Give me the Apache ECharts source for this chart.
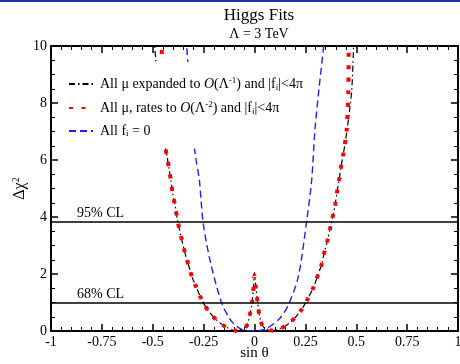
<!DOCTYPE html>
<html>
<head>
<meta charset="utf-8">
<script src="https://cdn.jsdelivr.net/npm/echarts@6/dist/echarts.min.js"></script>
<style>
  html, body { margin: 0; padding: 0; background: #fff; }
  #chart { width: 460px; height: 364px; }
</style>
</head>
<body>
<div id="chart"></div>
<script>
// sin theta and delta chi^2
const expandedX = [-0.492, -0.489, -0.484, -0.465, -0.44, -0.428, -0.419, -0.41, -0.402, -0.39, -0.377, -0.355, -0.34, -0.323, -0.306, -0.284, -0.26, -0.23, -0.19, -0.143, -0.087, -0.04, -0.022, -0.012, -0.005, 0, 0.006, 0.016, 0.024, 0.043, 0.09, 0.15, 0.196, 0.233, 0.261, 0.289, 0.31, 0.33, 0.343, 0.358, 0.371, 0.384, 0.396, 0.405, 0.415, 0.424, 0.437, 0.455, 0.468, 0.478, 0.486, 0.488];
const expandedY = [10.3, 9.86, 9.45, 8.0, 6.53, 6.06, 5.65, 5.24, 4.83, 4.39, 3.84, 3.13, 2.7, 2.28, 1.88, 1.5, 1.11, 0.74, 0.41, 0.15, 0.01, 0.17, 0.6, 1.0, 1.55, 2.05, 1.6, 0.97, 0.56, 0.15, 0.01, 0.17, 0.44, 0.77, 1.12, 1.52, 1.93, 2.34, 2.75, 3.16, 3.58, 4.01, 4.42, 4.85, 5.26, 5.71, 6.23, 7.05, 7.8, 8.46, 9.8, 10.3];

const ratesX = [-0.458, -0.456, -0.455, -0.45, -0.44, -0.428, -0.419, -0.41, -0.402, -0.39, -0.377, -0.355, -0.34, -0.323, -0.306, -0.284, -0.26, -0.23, -0.19, -0.143, -0.087, -0.04, -0.022, -0.012, -0.005, 0, 0.006, 0.016, 0.024, 0.043, 0.09, 0.15, 0.196, 0.233, 0.261, 0.289, 0.31, 0.33, 0.343, 0.358, 0.371, 0.384, 0.396, 0.405, 0.415, 0.424, 0.437, 0.453, 0.458, 0.461, 0.462, 0.463];
const ratesY = [10.3, 9.9, 9.5, 8.0, 6.53, 6.06, 5.65, 5.24, 4.83, 4.39, 3.84, 3.13, 2.7, 2.28, 1.88, 1.5, 1.11, 0.74, 0.41, 0.15, 0.01, 0.17, 0.6, 1.0, 1.5, 1.95, 1.55, 0.97, 0.56, 0.15, 0.01, 0.17, 0.44, 0.77, 1.12, 1.52, 1.93, 2.34, 2.75, 3.16, 3.58, 4.01, 4.42, 4.85, 5.26, 5.71, 6.23, 7.05, 7.75, 8.34, 9.1, 10.3];

const zeroX = [-0.338, -0.333, -0.31, -0.297, -0.287, -0.271, -0.252, -0.215, -0.161, -0.125, -0.104, -0.055, 0, 0.06, 0.125, 0.166, 0.215, 0.256, 0.281, 0.297, 0.318, 0.338, 0.343];
const zeroY = [10.3, 10.0, 7.5, 6.53, 6.0, 5.3, 3.78, 2.37, 0.97, 0.47, 0.27, 0.03, 0, 0.09, 0.45, 0.91, 1.9, 3.84, 5.3, 7.05, 8.57, 9.86, 10.3];

const clLevels = [3.84, 1.0];
const clLabels = ['95% CL', '68% CL'];

const seriesNames = [
  'All μ expanded to O(Λ^-1) and |f_i|<4π',
  'All μ, rates to O(Λ^-2) and |f_i|<4π',
  'All f_i = 0'
];
const legendRich = {
  [seriesNames[0]]: 'All μ expanded to {it|O}(Λ{sup|-1}) and |f{sub|i}|<4π',
  [seriesNames[1]]: 'All μ, rates to {it|O}(Λ{sup|-2}) and |f{sub|i}|<4π',
  [seriesNames[2]]: 'All f{sub|i} = 0'
};

const font = 'Liberation Serif, Times New Roman, serif';
const zip = (xs, ys) => xs.map((x, i) => [x, ys[i]]);

const chart = echarts.init(document.getElementById('chart'));

const frameAxis = {
  min: -1, max: 1, interval: 0.25,
  axisLine: { show: true, onZero: false, lineStyle: { color: '#000', width: 2 } },
  axisTick: { inside: true, length: 7, lineStyle: { color: '#000', width: 1.5 } },
  minorTick: { show: true, splitNumber: 5, length: 4, lineStyle: { color: '#000', width: 1 } },
  splitLine: { show: false }
};
const frameYAxis = {
  min: 0, max: 10, interval: 2,
  axisLine: { show: true, onZero: false, lineStyle: { color: '#000', width: 2 } },
  axisTick: { inside: true, length: 7, lineStyle: { color: '#000', width: 1.5 } },
  minorTick: { show: true, splitNumber: 4, length: 4, lineStyle: { color: '#000', width: 1 } },
  splitLine: { show: false }
};

chart.setOption({
  animation: false,
  backgroundColor: '#fff',
  textStyle: { fontFamily: font },
  graphic: [{
    type: 'rect', shape: { x: 0, y: 0, width: 460, height: 2 },
    style: { fill: '#2a2ab0' }
  }],
  title: {
    text: 'Higgs Fits',
    subtext: 'Λ = 3 TeV',
    left: 254, top: 2, textAlign: 'center',
    itemGap: 3,
    textStyle: { fontFamily: font, fontSize: 17, fontWeight: 'normal', color: '#000' },
    subtextStyle: { fontFamily: font, fontSize: 14, color: '#000' }
  },
  grid: { left: 51, right: 2, top: 46, bottom: 33, outerBoundsMode: 'none', containLabel: false },
  legend: {
    orient: 'vertical',
    left: 60, top: 62,
    padding: [14, 8, 10, 8],
    backgroundColor: '#fff',
    itemWidth: 24, itemHeight: 10, itemGap: 8,
    itemStyle: { opacity: 0 },
    data: seriesNames,
    formatter: name => legendRich[name],
    textStyle: {
      fontFamily: font, fontSize: 14, color: '#000', padding: [0, 0, 0, 2],
      rich: {
        it: { fontFamily: font, fontSize: 14, fontStyle: 'italic' },
        sup: { fontFamily: font, fontSize: 9, verticalAlign: 'top', padding: [0, 0, 7, 0] },
        sub: { fontFamily: font, fontSize: 9, verticalAlign: 'bottom', padding: [6, 0, 0, 0] }
      }
    }
  },
  xAxis: [
    Object.assign({}, frameAxis, {
      type: 'value', position: 'bottom',
      name: 'sin θ', nameLocation: 'middle', nameGap: 15, nameMoveOverlap: false,
      nameTextStyle: { fontFamily: font, fontSize: 15, color: '#000', verticalAlign: 'top' },
      axisLabel: { fontFamily: font, fontSize: 14, color: '#000', margin: 4 }
    }),
    Object.assign({}, frameAxis, {
      type: 'value', position: 'top', axisLabel: { show: false }
    })
  ],
  yAxis: [
    Object.assign({}, frameYAxis, {
      type: 'value', position: 'left',
      name: 'Δχ{sup|2}', nameLocation: 'middle', nameGap: 22, nameRotate: 90, nameMoveOverlap: false,
      nameTextStyle: {
        fontFamily: font, fontSize: 16, color: '#000',
        rich: { sup: { fontFamily: font, fontSize: 10, verticalAlign: 'top', padding: [0, 0, 8, 0] } }
      },
      axisLabel: { fontFamily: font, fontSize: 14, color: '#000', margin: 4 }
    }),
    Object.assign({}, frameYAxis, {
      type: 'value', position: 'right', axisLabel: { show: false }
    })
  ],
  series: [
    {
      name: 'CL',
      type: 'line',
      data: [],
      silent: true,
      markLine: {
        symbol: 'none',
        silent: true,
        lineStyle: { color: '#000', width: 1.5, type: 'solid' },
        label: {
          position: 'insideStartTop', distance: [26, 1],
          fontFamily: font, fontSize: 14, color: '#000'
        },
        data: clLevels.map((v, i) => ({ yAxis: v, label: { formatter: clLabels[i] } }))
      }
    },
    {
      name: seriesNames[2],
      type: 'line',
      data: zip(zeroX, zeroY),
      symbol: 'none',
      smooth: 0.3,
      clip: true,
      color: '#1f1fff',
      lineStyle: { color: '#1f1fff', width: 1.4, type: [7, 4] }
    },
    {
      name: seriesNames[0],
      type: 'line',
      data: zip(expandedX, expandedY),
      symbol: 'none',
      smooth: 0.3,
      clip: true,
      color: '#000',
      lineStyle: { color: '#000', width: 1.2, type: [6, 3, 1.5, 3] }
    },
    {
      name: seriesNames[1],
      type: 'line',
      data: zip(ratesX, ratesY),
      symbol: 'none',
      smooth: 0.3,
      clip: true,
      color: '#ff0000',
      lineStyle: { color: '#ff0000', width: 4, type: [4, 8.5], cap: 'butt' }
    }
  ]
});
</script>
</body>
</html>
